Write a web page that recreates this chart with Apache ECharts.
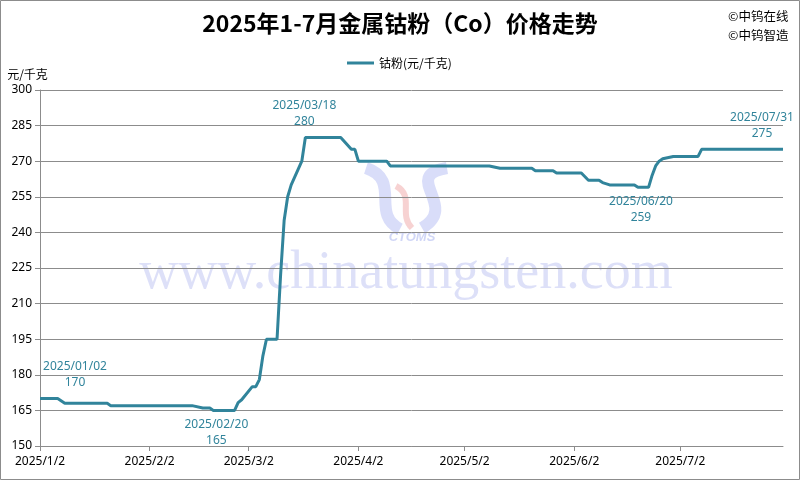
<!DOCTYPE html>
<html>
<head>
<meta charset="utf-8">
<script src="https://cdn.jsdelivr.net/npm/echarts@6.0.0/dist/echarts.min.js"></script>
<style>
html,body{margin:0;padding:0;background:#fff;}
#chart{width:800px;height:480px;}
</style>
</head>
<body>
<div id="chart"></div>
<script>
// ---- data ----
var titleText = '2025年1-7月金属钴粉（Co）价格走势';
var seriesName = '钴粉(元/千克)';
var unitName = '元/千克';
var copyright = ['©中钨在线', '©中钨智造'];
var dates = ['2025-01-02','2025-01-07','2025-01-09','2025-01-21','2025-01-22','2025-02-14','2025-02-17','2025-02-19','2025-02-20','2025-02-26',
             '2025-02-27','2025-02-28','2025-03-03','2025-03-04','2025-03-05','2025-03-06','2025-03-07','2025-03-10','2025-03-11','2025-03-12',
             '2025-03-13','2025-03-14','2025-03-17','2025-03-18','2025-03-28','2025-03-31','2025-04-01','2025-04-02','2025-04-10','2025-04-11',
             '2025-05-09','2025-05-12','2025-05-21','2025-05-22','2025-05-27','2025-05-28','2025-06-04','2025-06-06','2025-06-09','2025-06-10',
             '2025-06-12','2025-06-19','2025-06-20','2025-06-23','2025-06-24','2025-06-25','2025-06-26','2025-06-27','2025-06-30','2025-07-07',
             '2025-07-08','2025-07-31'];
var prices = [170,170,168,168,167,167,166,166,165,165,
              168.3,169.5,175,175,178,188,195,195,222,245,
              255,260,270,280,280,275,275,270,270,268,
              268,267,267,266,266,265,265,262,262,261,
              260,260,259,259,264,268,270,271,272,272,
              275,275];
var annotatedDates = ['2025-01-02','2025-02-20','2025-03-18','2025-06-20','2025-07-31'];
var tickDates = ['2025-01-02','2025-02-02','2025-03-02','2025-04-02','2025-05-02','2025-06-02','2025-07-02'];
var axisMinDate = '2025-01-02';
var axisMaxDate = '2025-07-31';
var yMin = 150, yMax = 300, yStep = 15;
var watermark = 'www.chinatungsten.com';

// ---- helpers ----
function pad(n){ return (n<10?'0':'')+n; }
function parseD(s){ var p = s.split('-'); return new Date(+p[0], +p[1]-1, +p[2]); }
function key(d){ return d.getFullYear()+'-'+pad(d.getMonth()+1)+'-'+pad(d.getDate()); }
function fmtLong(s){ return s.replace(/-/g,'/'); }
function fmtShort(s){ var d=parseD(s); return d.getFullYear()+'/'+(d.getMonth()+1)+'/'+d.getDate(); }

// calendar day categories spanning the axis
var dayCats = [];
for (var d = parseD(axisMinDate); d <= parseD(axisMaxDate); d.setDate(d.getDate()+1)) dayCats.push(key(d));

var teal = '#31849B';
var labelCfg = {
  '2025-01-02': {position:'top', offset:[35,-3]},
  '2025-02-20': {position:'bottom', offset:[3,1]},
  '2025-03-18': {position:'top', offset:[-1,-3]},
  '2025-06-20': {position:'bottom', offset:[3,1]},
  '2025-07-31': {position:'top', offset:[-21,-3]}
};
var seriesData = dates.map(function(dt,i){
  var item = {value:[dt, prices[i]]};
  if (annotatedDates.indexOf(dt) >= 0) {
    var c = labelCfg[dt];
    item.label = {
      show:true, position:c.position, offset:c.offset, distance:5,
      formatter:fmtLong(dt) + '\n' + prices[i],
      color:teal, fontSize:12, lineHeight:16, fontFamily:'Noto Sans', align:'center'
    };
  }
  return item;
});

var chart = echarts.init(document.getElementById('chart'));
var gridColor = '#8c8c8c';
var wmBlue = 'rgba(165,175,240,0.42)';
chart.setOption({
  animation:false,
  backgroundColor:'#ffffff',
  title:{
    text:titleText, left:'center', top:12, padding:0,
    textStyle:{fontSize:23, fontWeight:'bold', color:'#000', fontFamily:'"Noto Sans CJK SC", "Noto Sans", sans-serif'}
  },
  legend:{
    data:[seriesName], left:347, top:57, padding:0,
    icon:'rect', itemWidth:27, itemHeight:3, itemGap:10,
    textStyle:{fontSize:12, color:'#000', fontFamily:'"Noto Sans CJK SC", sans-serif'}
  },
  graphic:{elements:[
    {type:'rect', z:-20, silent:true, shape:{x:0.5,y:0.5,width:799,height:479}, style:{fill:'none', stroke:'#8c8c8c', lineWidth:1}},
    {type:'text', z:-10, silent:true, x:728, y:16, style:{text:copyright[0], fontSize:12.5, fill:'#000', verticalAlign:'middle', fontFamily:'"Noto Sans CJK SC", sans-serif'}},
    {type:'text', z:-10, silent:true, x:728, y:35, style:{text:copyright[1], fontSize:12.5, fill:'#000', verticalAlign:'middle', fontFamily:'"Noto Sans CJK SC", sans-serif'}},
    {type:'text', z:-10, silent:true, x:406, y:274, style:{text:watermark, fontSize:54, fill:'rgba(155,165,235,0.34)', align:'center', verticalAlign:'middle', fontFamily:'"Liberation Serif", serif'}},
    {type:'bezierCurve', z:-10, silent:true, shape:{x1:366,y1:168,cpx1:402,cpy1:180,cpx2:370,cpy2:214,x2:400,y2:229}, style:{fill:null, stroke:wmBlue, lineWidth:12}},
    {type:'bezierCurve', z:-10, silent:true, shape:{x1:396,y1:186,cpx1:415,cpy1:196,cpx2:398,cpy2:214,x2:412,y2:228}, style:{fill:null, stroke:'rgba(240,165,165,0.5)', lineWidth:6}},
    {type:'bezierCurve', z:-10, silent:true, shape:{x1:447,y1:168,cpx1:400,cpy1:176,cpx2:460,cpy2:206,x2:422,y2:228}, style:{fill:null, stroke:wmBlue, lineWidth:12}},
    {type:'text', z:-10, silent:true, x:412, y:237, style:{text:'CTOMS', fontSize:13, fontStyle:'italic', fontWeight:'bold', fill:'rgba(150,165,235,0.45)', align:'center', verticalAlign:'middle', fontFamily:'"Liberation Sans", sans-serif'}}
  ]},
  grid:{left:40, right:17, top:90, bottom:34},
  xAxis:{
    type:'category', data:dayCats, boundaryGap:false,
    axisLine:{show:true, lineStyle:{color:gridColor, width:1}},
    axisTick:{show:true, length:5, lineStyle:{color:gridColor}, interval:function(i, v){ return tickDates.indexOf(v) >= 0; }},
    axisLabel:{interval:function(i, v){ return tickDates.indexOf(v) >= 0; }, formatter:function(v){return fmtShort(v);}, color:'#000', fontSize:12, margin:10, fontFamily:'"Noto Sans", sans-serif'},
    splitLine:{show:false}
  },
  yAxis:{
    type:'value', min:yMin, max:yMax, interval:yStep,
    name:unitName, nameLocation:'end', nameGap:10,
    nameTextStyle:{color:'#000', fontSize:12, align:'center', padding:[0,25,0,0], fontFamily:'"Noto Sans CJK SC", sans-serif'},
    axisLine:{show:true, lineStyle:{color:gridColor, width:1}},
    axisTick:{show:true, length:5, lineStyle:{color:gridColor}},
    axisLabel:{color:'#000', fontSize:12, margin:8, fontFamily:'"Noto Sans", sans-serif'},
    splitLine:{show:true, lineStyle:{color:gridColor, width:1}}
  },
  series:[{
    name:seriesName, type:'line', data:seriesData,
    showSymbol:true, symbol:'circle', symbolSize:0,
    lineStyle:{color:teal, width:3}, itemStyle:{color:teal},
    z:5
  }]
});
</script>
</body>
</html>
